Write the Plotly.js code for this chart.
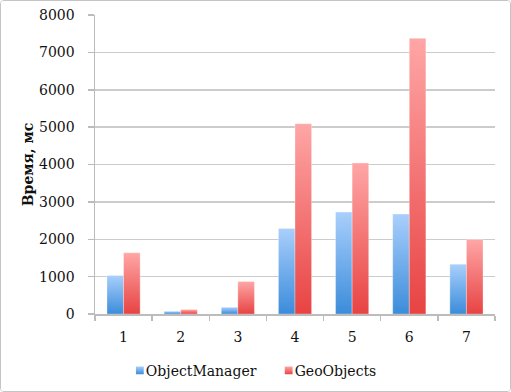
<!DOCTYPE html>
<html><head><meta charset="utf-8">
<script src="https://cdn.plot.ly/plotly-3.0.1.min.js"></script>
<style>
html,body{margin:0;padding:0;background:#fff;}
#chart{width:511px;height:392px;box-sizing:border-box;border:1px solid #c4c4c4;border-radius:4px;overflow:hidden;}
</style></head>
<body>
<div id="chart"></div>
<script>
var categories = ["1","2","3","4","5","6","7"];
var objectManager = [1030, 72, 180, 2290, 2727, 2673, 1332];
var geoObjects = [1636, 118, 869, 5090, 4040, 7375, 1993];
var yTicks = [0,1000,2000,3000,4000,5000,6000,7000,8000];

var font = {family: "'DejaVu Serif', 'Liberation Serif', serif", size: 14, color: "#111"};
var data = [
  {type:"bar", name:"ObjectManager", x:categories, y:objectManager,
   marker:{color:"#6aa9ee", line:{color:"rgba(255,255,255,0.6)", width:0.5}}},
  {type:"bar", name:"GeoObjects", x:categories, y:geoObjects,
   marker:{color:"#f47575", line:{color:"rgba(255,255,255,0.6)", width:0.5}}}
];
var layout = {
  width:509, height:390,
  margin:{l:94, r:15, t:14, b:77},
  paper_bgcolor:"#fff", plot_bgcolor:"#fff",
  font:font,
  bargap:0.42, bargroupgap:0,
  showlegend:true,
  legend:{orientation:"h", xref:"container", yref:"container", x:0.206, xanchor:"left",
          y:0.052, yanchor:"middle", font:font, itemwidth:30, tracegroupgap:0},
  xaxis:{type:"category", tickson:"boundaries", ticks:"outside", ticklen:5, tickcolor:"#bcbcbc",
         tickwidth:1.5, showline:true, linecolor:"#bcbcbc", linewidth:1.5, showgrid:false,
         tickfont:font, ticklabelstandoff:10, fixedrange:true, automargin:false},
  yaxis:{range:[0,8000], tickvals:yTicks, ticks:"outside", ticklen:6, tickcolor:"#bcbcbc",
         tickwidth:1.5, showline:true, linecolor:"#bcbcbc", linewidth:1.5, automargin:false,
         gridcolor:"#cccccc", gridwidth:1.5, zeroline:false, tickfont:font, ticklabelstandoff:10,
         title:{text:"<b>Время, мс</b>", font:font, standoff:2}}
};
Plotly.newPlot("chart", data, layout, {displayModeBar:false, staticPlot:true}).then(function(gd){
  var svg = gd.querySelector("svg.main-svg");
  var ns = "http://www.w3.org/2000/svg";
  var defs = svg.querySelector("defs") || svg.insertBefore(document.createElementNS(ns,"defs"), svg.firstChild);
  function grad(id, top, bot){
    var g = document.createElementNS(ns,"linearGradient");
    g.setAttribute("id", id); g.setAttribute("x1","0"); g.setAttribute("y1","0");
    g.setAttribute("x2","0"); g.setAttribute("y2","1");
    var s1 = document.createElementNS(ns,"stop"); s1.setAttribute("offset","0"); s1.setAttribute("stop-color", top);
    var s2 = document.createElementNS(ns,"stop"); s2.setAttribute("offset","1"); s2.setAttribute("stop-color", bot);
    g.appendChild(s1); g.appendChild(s2); defs.appendChild(g);
  }
  grad("gBlue", "#a9cffc", "#3b8cda");
  grad("gRed", "#ffa6a6", "#e84343");
  var ids = ["gBlue","gRed"];
  gd.querySelectorAll(".barlayer .trace").forEach(function(t, i){
    t.querySelectorAll("path").forEach(function(p){ p.style.fill = "url(#"+ids[i]+")"; });
  });
  gd.querySelectorAll(".legend .traces").forEach(function(t, i){
    var shift = i === 0 ? 0 : -7;
    t.querySelectorAll(".legendpoints path").forEach(function(p){
      p.style.fill = "url(#"+ids[i]+")";
      p.style.stroke = "none";
      p.setAttribute("transform", "translate(" + (34 + shift) + ",0) scale(0.65)");
    });
    var txt = t.querySelector("text.legendtext");
    if (txt) txt.setAttribute("x", 40 + shift);
  });
});
</script>
</body></html>
